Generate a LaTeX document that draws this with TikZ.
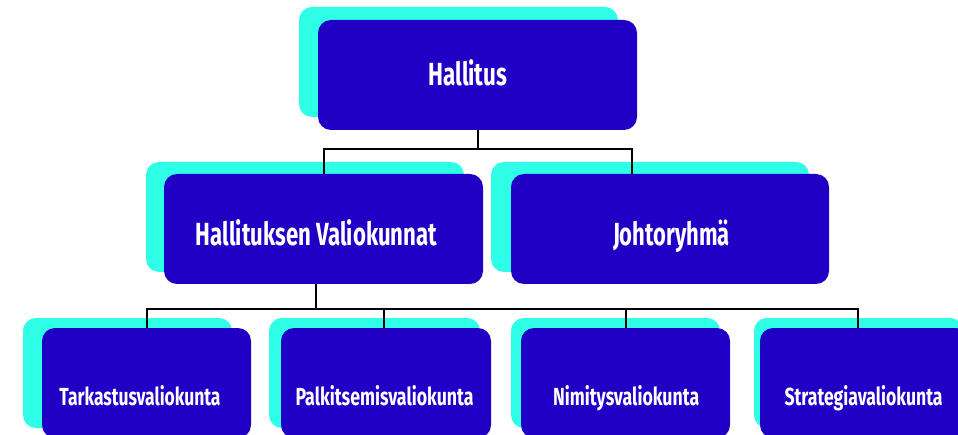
\documentclass[tikz,border=0pt]{standalone}
\usepackage{fontspec}
\usepackage{graphicx}
\setmainfont{Fira Sans}
\definecolor{boxblue}{HTML}{2000C5}
\definecolor{boxcyan}{HTML}{2EFFE6}
\newcommand{\fitto}[2]{\resizebox{#1}{\height}{#2}}
\tikzset{
  bluebox/.style={fill=boxblue, draw=none, rounded corners=13pt, minimum width=#1, minimum height=110pt, inner sep=0pt},
  cyanbox/.style={fill=boxcyan, draw=none, rounded corners=13pt, minimum width=#1, minimum height=110pt, inner sep=0pt},
  bigtext/.style={text=white, inner sep=0pt, anchor=base, font=\fontsize{32}{36}\selectfont\bfseries},
  smalltext/.style={text=white, inner sep=0pt, anchor=base, font=\fontsize{24.7}{28}\selectfont\bfseries},
  conn/.style={draw=black, line width=2pt}
}
\begin{document}
\begin{tikzpicture}[x=1pt,y=1pt]
\useasboundingbox (0,0) rectangle (958,434);
\clip (0,0) rectangle (958,434);
% shadow boxes
\node[cyanbox=319pt] (hallitus-sh) at (458.5,372) {};
\node[cyanbox=318pt] (valio-sh) at (305,217) {};
\node[cyanbox=318pt] (johto-sh) at (650,217) {};
\node[cyanbox=209pt] (b1-sh) at (127.5,61) {};
\node[cyanbox=211pt] (b2-sh) at (374.5,61) {};
\node[cyanbox=209pt] (b3-sh) at (615.5,61) {};
\node[cyanbox=209pt] (b4-sh) at (858.5,61) {};
% main boxes
\node[bluebox=319pt] (hallitus) at (477.5,359) {};
\node[bluebox=319pt] (valio) at (323.5,205) {};
\node[bluebox=318pt] (johto) at (670,205) {};
\node[bluebox=209pt] (b1) at (146.5,51) {};
\node[bluebox=210pt] (b2) at (386,51) {};
\node[bluebox=209pt] (b3) at (625.5,51) {};
\node[bluebox=209pt] (b4) at (864.5,51) {};
% texts
\node[bigtext] (t-hallitus) at (467.8,348) {\fitto{79pt}{Hallitus}};
\node[bigtext] (t-valio) at (316.5,188.3) {\fitto{241pt}{Hallituksen Valiokunnat}};
\node[bigtext] (t-johto) at (671.5,188.3) {\fitto{117pt}{Johtoryhmä}};
\node[smalltext] (t-b1) at (140,28.7) {\fitto{161pt}{Tarkastusvaliokunta}};
\node[smalltext] (t-b2) at (384.5,28.7) {\fitto{178pt}{Palkitsemisvaliokunta}};
\node[smalltext] (t-b3) at (626.2,28.7) {\fitto{146pt}{Nimitysvaliokunta}};
\node[smalltext] (t-b4) at (863.5,28.7) {\fitto{158pt}{Strategiavaliokunta}};
% connectors
\coordinate (hb) at ([yshift=-19pt]hallitus.south);
\draw[conn] (hallitus.south) -- (hb);
\draw[conn] (valio.north) |- (hb) -| ([xshift=-38pt]johto.north);
\coordinate (vb) at ([xshift=-7.5pt,yshift=-25pt]valio.south);
\draw[conn] ([xshift=-7.5pt]valio.south) -- (vb);
\draw[conn] (b1.north) |- (vb) -| ([xshift=-6.5pt]b4.north);
\draw[conn] ([xshift=-2pt]b2.north) -- ([xshift=-2pt]b2.north |- vb);
\draw[conn] (b3.north) -- (b3.north |- vb);
\end{tikzpicture}
\end{document}
